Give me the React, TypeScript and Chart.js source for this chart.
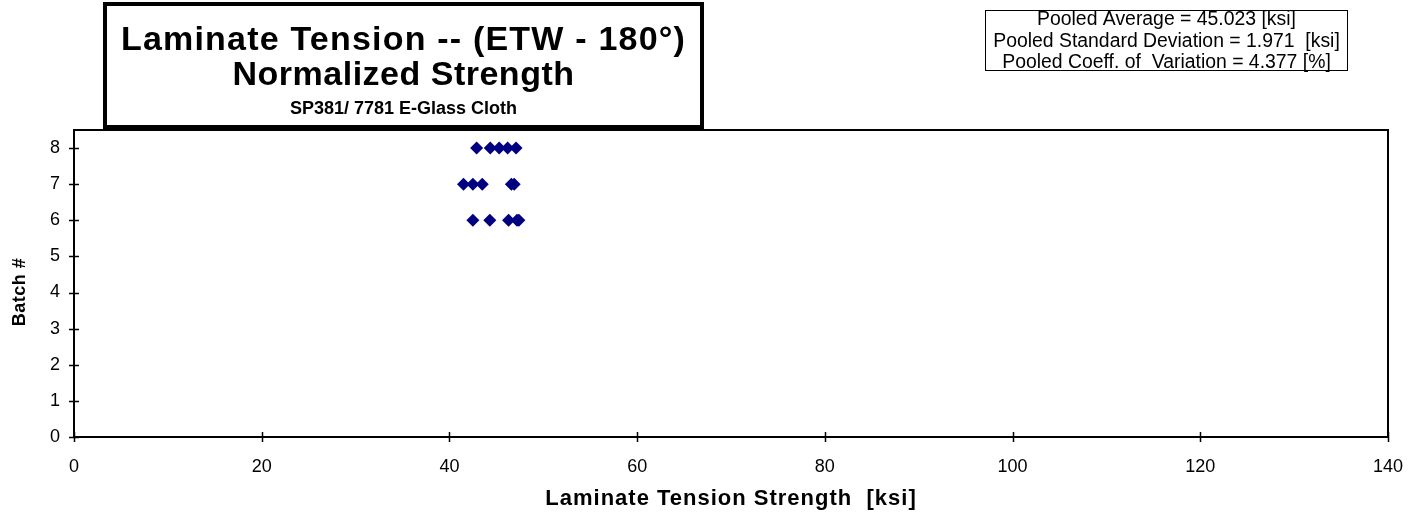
import React, { useEffect, useRef } from "react";
import { Chart, registerables } from "chart.js";

Chart.register(...registerables);

// ---- data ----
const batchNumbers = [6, 7, 8];
const batch6Values = [42.5, 44.3, 46.3, 47.2, 47.4];
const batch7Values = [41.5, 42.5, 43.5, 46.6, 46.9];
const batch8Values = [42.9, 44.35, 45.3, 46.2, 47.1];
const xTickValues = [0, 20, 40, 60, 80, 100, 120, 140];
const yTickValues = [0, 1, 2, 3, 4, 5, 6, 7, 8];
const titleLines = [
  "Laminate Tension -- (ETW - 180°)",
  "Normalized Strength",
  "SP381/ 7781 E-Glass Cloth",
];
const statsLines = [
  "Pooled Average = 45.023 [ksi]",
  "Pooled Standard Deviation = 1.971  [ksi]",
  "Pooled Coeff. of  Variation = 4.377 [%]",
];
const xAxisTitle = "Laminate Tension Strength  [ksi]";
const yAxisTitle = "Batch #";

const FONT = "'Liberation Sans', Arial, Helvetica, sans-serif";

const W = 1412;
const H = 516;

function spaced(ctx: any, px: number) {
  try {
    ctx.letterSpacing = px + "px";
  } catch (e) {
    /* ignore */
  }
}

const decorPlugin = {
  id: "decor",
  afterDraw(chart: any) {
    const ctx = chart.ctx as CanvasRenderingContext2D;
    const area = chart.chartArea;
    const xs = chart.scales.x;
    const ys = chart.scales.y;
    ctx.save();
    // plot frame
    ctx.strokeStyle = "#000";
    ctx.lineWidth = 2;
    ctx.strokeRect(area.left, area.top, area.right - area.left, area.bottom - area.top);
    // crossing ticks
    ctx.lineWidth = 1.5;
    ctx.beginPath();
    for (const v of xTickValues) {
      const px = Math.round(xs.getPixelForValue(v)) + 0.5;
      ctx.moveTo(px, area.bottom - 5);
      ctx.lineTo(px, area.bottom + 5);
    }
    for (const v of yTickValues) {
      const py = Math.round(ys.getPixelForValue(v)) + 0.5;
      ctx.moveTo(area.left - 5, py);
      ctx.lineTo(area.left + 5, py);
    }
    ctx.stroke();

    // axis titles
    ctx.fillStyle = "#000";
    ctx.textAlign = "center";
    ctx.textBaseline = "middle";
    ctx.font = `bold 22px ${FONT}`;
    spaced(ctx, 1);
    ctx.fillText(xAxisTitle, (area.left + area.right) / 2, 499);
    ctx.save();
    ctx.font = `bold 18px ${FONT}`;
    spaced(ctx, 0.5);
    ctx.translate(20, 292);
    ctx.rotate(-Math.PI / 2);
    ctx.fillText(yAxisTitle, 0, 0);
    ctx.restore();

    // title box
    const tb = { x: 105, y: 4, w: 597, h: 123 };
    ctx.fillStyle = "#fff";
    ctx.fillRect(tb.x, tb.y, tb.w, tb.h);
    ctx.lineWidth = 4;
    ctx.strokeStyle = "#000";
    ctx.strokeRect(tb.x, tb.y, tb.w, tb.h);
    ctx.fillStyle = "#000";
    const cx = tb.x + tb.w / 2;
    ctx.font = `bold 34px ${FONT}`;
    spaced(ctx, 1.2);
    ctx.fillText(titleLines[0], cx, 41);
    spaced(ctx, 0.5);
    ctx.fillText(titleLines[1], cx, 76);
    ctx.font = `bold 18px ${FONT}`;
    spaced(ctx, 0);
    ctx.fillText(titleLines[2], cx, 109);

    // stats box
    const sb = { x: 985.5, y: 10.5, w: 362, h: 60 };
    ctx.fillStyle = "#fff";
    ctx.fillRect(sb.x, sb.y, sb.w, sb.h);
    ctx.lineWidth = 1;
    ctx.strokeRect(sb.x, sb.y, sb.w, sb.h);
    ctx.fillStyle = "#000";
    ctx.font = `19.4px ${FONT}`;
    const scx = sb.x + sb.w / 2;
    ctx.fillText(statsLines[0], scx, 20);
    ctx.fillText(statsLines[1], scx, 42);
    ctx.fillText(statsLines[2], scx, 63);
    ctx.restore();
  },
};

export default function App() {
  const canvasRef = useRef<HTMLCanvasElement | null>(null);

  useEffect(() => {
    const canvas = canvasRef.current;
    if (!canvas) return;
    const allSeries = [batch6Values, batch7Values, batch8Values];
    const points: { x: number; y: number }[] = [];
    allSeries.forEach((vals, i) => {
      vals.forEach((v) => points.push({ x: v, y: batchNumbers[i] }));
    });

    const chart = new Chart(canvas, {
      type: "scatter",
      data: {
        datasets: [
          {
            label: "Normalized Strength",
            data: points,
            pointStyle: "rectRot",
            pointRadius: 6.5,
            pointBackgroundColor: "#000080",
            pointBorderColor: "#000080",
            pointBorderWidth: 0,
          },
        ],
      },
      options: {
        animation: false,
        responsive: false,
        devicePixelRatio: 1,
        layout: { padding: { left: 0, right: 24, top: 130, bottom: 0 } },
        plugins: {
          legend: { display: false },
          tooltip: { enabled: false },
          title: { display: false },
        },
        scales: {
          x: {
            type: "linear",
            min: 0,
            max: 140,
            grid: { display: false },
            border: { display: false },
            ticks: {
              stepSize: 20,
              color: "#000",
              font: { family: FONT, size: 18 },
              padding: 11,
              maxRotation: 0,
            },
            afterFit: (s: any) => {
              s.height = 79;
              s.paddingLeft = 0;
              s.paddingRight = 0;
            },
          },
          y: {
            type: "linear",
            min: 0,
            max: 8.5,
            grid: { display: false },
            border: { display: false },
            ticks: {
              stepSize: 1,
              color: "#000",
              font: { family: FONT, size: 18 },
              padding: 6,
            },
            afterBuildTicks: (s: any) => {
              s.ticks = yTickValues.map((v) => ({ value: v }));
            },
            afterFit: (s: any) => {
              s.width = 74;
              s.paddingTop = 0;
              s.paddingBottom = 0;
            },
          },
        },
      },
      plugins: [decorPlugin],
    });
    return () => chart.destroy();
  }, []);

  return (
    <div style={{ position: "absolute", left: 0, top: 0, width: W, height: H, background: "#fff" }}>
      <canvas ref={canvasRef} width={W} height={H} style={{ display: "block" }} />
    </div>
  );
}
